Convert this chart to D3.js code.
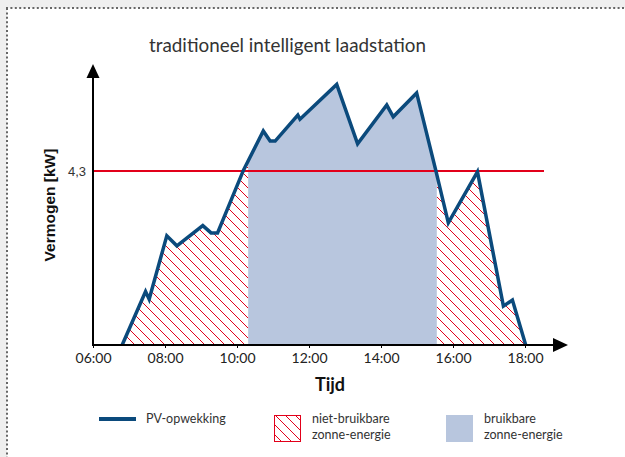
<!DOCTYPE html>
<meta charset="utf-8">
<title>traditioneel intelligent laadstation</title>
<head>
    <script src="https://cdn.jsdelivr.net/npm/d3@7"></script>
</head>
<body style="margin: 0px; background: #efefef">
<script>

    // PV curve (hour of day, kW)
    var hours = [6.81, 7.46, 7.56, 8.05, 8.33, 9.05, 9.28, 9.46, 10.18, 10.73, 10.92, 11.06, 11.69, 11.75, 12.77, 13.35, 14.16, 14.34, 14.99, 15.52, 15.87, 16.68, 17.40, 17.65, 18.02];
    var power = [0, 1.32, 1.13, 2.70, 2.45, 2.95, 2.77, 2.77, 4.32, 5.29, 5.04, 5.04, 5.68, 5.58, 6.44, 4.97, 5.93, 5.64, 6.23, 4.32, 3.02, 4.28, 0.96, 1.11, 0];
    var xTicks = [6, 8, 10, 12, 14, 16, 18];
    var xTickLabels = ["06:00", "08:00", "10:00", "12:00", "14:00", "16:00", "18:00"];
    var limit = 4.3, limitLabel = "4,3";
    var usable = [10.31, 15.55];
    var legendLabels = [["PV-opwekking"], ["niet-bruikbare", "zonne-energie"], ["bruikbare", "zonne-energie"]];

    var width = 625, height = 457;
    var futura = "Lato, 'Noto Sans', sans-serif",
        arial = "'Liberation Sans', Arial, sans-serif";
    var blue = "#0b4a7c", red = "#e2001a", fillBlue = "#b8c6de";

    var svg = d3.select("body").append("svg")
            .attr("width", width)
            .attr("height", height)
            .style("display", "block");

    // white sheet with dotted edge
    svg.append("rect").attr("x", 7).attr("y", 8).attr("width", width).attr("height", height).attr("fill", "#fff");
    svg.append("line").attr("x1", 6).attr("x2", width).attr("y1", 8).attr("y2", 8)
            .attr("stroke", "#666").attr("stroke-width", 2).attr("stroke-dasharray", "2,2.4");
    svg.append("line").attr("x1", 7).attr("x2", 7).attr("y1", 8).attr("y2", height)
            .attr("stroke", "#666").attr("stroke-width", 2).attr("stroke-dasharray", "2,2.4");

    var x = d3.scaleLinear().domain([6, 18]).range([93, 525]);
    var y = d3.scaleLinear().domain([0, limit]).range([345, 171]);

    var defs = svg.append("defs");
    var pat = defs.append("pattern").attr("id", "hatch")
            .attr("patternUnits", "userSpaceOnUse").attr("width", 10).attr("height", 10);
    pat.append("path").attr("d", "M0,0L10,10M-1,9L1,11M9,-1L11,1")
            .attr("stroke", red).attr("stroke-width", 1).attr("fill", "none");

    defs.append("clipPath").attr("id", "clipUsable").append("rect")
            .attr("x", x(usable[0])).attr("y", 0)
            .attr("width", x(usable[1]) - x(usable[0])).attr("height", y(0));
    var cl = defs.append("clipPath").attr("id", "clipWaste");
    cl.append("rect").attr("x", x(6)).attr("y", 0).attr("width", x(usable[0]) - x(6)).attr("height", y(0));
    cl.append("rect").attr("x", x(usable[1])).attr("y", 0).attr("width", x(18.5) - x(usable[1])).attr("height", y(0));

    var pts = hours.map(function (h, i) { return [h, power[i]]; });
    var area = d3.area().x(function (d) { return x(d[0]); }).y0(y(0)).y1(function (d) { return y(d[1]); });
    var line = d3.line().x(function (d) { return x(d[0]); }).y(function (d) { return y(d[1]); });

    svg.append("path").datum(pts).attr("d", area).attr("fill", "url(#hatch)").attr("clip-path", "url(#clipWaste)");
    svg.append("path").datum(pts).attr("d", area).attr("fill", fillBlue).attr("clip-path", "url(#clipUsable)");

    // limit line
    svg.append("line").attr("x1", x(6)).attr("x2", 544).attr("y1", y(limit)).attr("y2", y(limit))
            .attr("stroke", red).attr("stroke-width", 2);

    svg.append("path").datum(pts).attr("d", line)
            .attr("fill", "none").attr("stroke", blue).attr("stroke-width", 3.5).attr("stroke-linejoin", "miter");

    // axes
    var xAxis = d3.axisBottom(x).tickValues(xTicks).tickSize(3)
            .tickFormat(function (d, i) { return xTickLabels[i]; });
    var gx = svg.append("g").attr("transform", "translate(0," + y(0) + ")").call(xAxis);
    gx.select(".domain").remove();
    gx.selectAll("text").attr("font-family", futura).attr("font-size", 14).attr("fill", "#222").attr("dy", "0.85em");
    gx.selectAll("line").attr("stroke", "#000");

    svg.append("line").attr("x1", x(6)).attr("x2", 556).attr("y1", y(0)).attr("y2", y(0)).attr("stroke", "#000").attr("stroke-width", 2);
    svg.append("line").attr("x1", x(6)).attr("x2", x(6)).attr("y1", y(0) + 1).attr("y2", 76).attr("stroke", "#000").attr("stroke-width", 2);
    svg.append("path").attr("d", "M553,338L568,345L553,352Z").attr("fill", "#000");
    svg.append("path").attr("d", "M86.5,78L93,64L99.5,78Z").attr("fill", "#000");

    svg.append("text").attr("x", 86).attr("y", y(limit) + 4.5).attr("text-anchor", "end")
            .attr("font-family", arial).attr("font-size", 13).attr("fill", "#333").text(limitLabel);

    svg.append("text").attr("transform", "translate(55,205) rotate(-90)").attr("text-anchor", "middle")
            .attr("font-family", arial).attr("font-weight", "bold").attr("font-size", 15.5).attr("fill", "#111")
            .text("Vermogen [kW]");

    svg.append("text").attr("x", 330).attr("y", 391).attr("text-anchor", "middle")
            .attr("font-family", futura).attr("font-weight", "bold").attr("font-size", 18).attr("fill", "#111")
            .text("Tijd");

    svg.append("text").attr("x", 149).attr("y", 52)
            .attr("font-family", futura).attr("font-size", 20).attr("fill", "#333")
            .attr("textLength", 277).attr("lengthAdjust", "spacingAndGlyphs")
            .text("traditioneel intelligent laadstation");

    // legend
    svg.append("line").attr("x1", 99).attr("x2", 136).attr("y1", 419).attr("y2", 419).attr("stroke", blue).attr("stroke-width", 4);
    svg.append("rect").attr("x", 274.5).attr("y", 415.5).attr("width", 26).attr("height", 26)
            .attr("fill", "url(#hatch)").attr("stroke", red).attr("stroke-width", 1);
    svg.append("rect").attr("x", 446).attr("y", 415).attr("width", 27).attr("height", 27).attr("fill", fillBlue);

    var legX = [146, 312, 484];
    legendLabels.forEach(function (lines, i) {
        lines.forEach(function (t, j) {
            svg.append("text").attr("x", legX[i]).attr("y", 423 + j * 16)
                    .attr("font-family", futura).attr("font-size", 12.5).attr("fill", "#333").text(t);
        });
    });

</script>
</body>
